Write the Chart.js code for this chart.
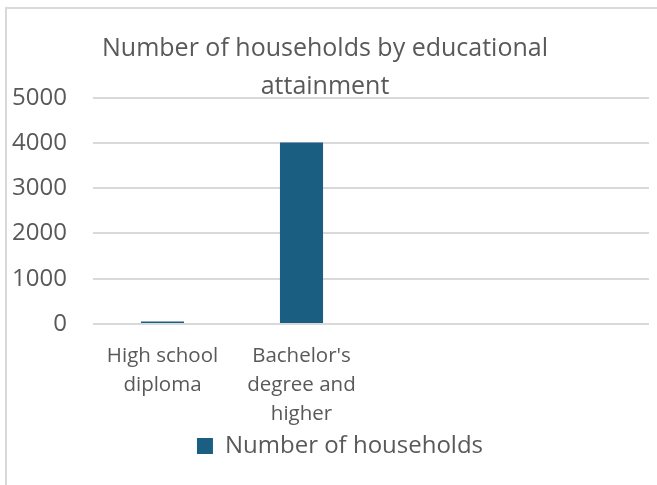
<!DOCTYPE html>
<html>
<head>
<meta charset="utf-8">
<script src="https://cdn.jsdelivr.net/npm/chart.js@4/dist/chart.umd.min.js"></script>
<style>
  html, body { margin: 0; padding: 0; background: #fff; overflow: hidden; }
  #frame {
    position: absolute; left: 5px; top: 7px;
    width: 660px; height: 480px;
    border: 2px solid #d9d9d9;
    overflow: hidden;
  }
  #wrap { position: absolute; left: -6px; top: 0; width: 666px; height: 476px; }
</style>
</head>
<body>
<div id="frame"><div id="wrap"><canvas id="eduChart"></canvas></div></div>
<script>
    // categories (two empty slots keep the same spacing as the sheet)
    var categories = [
        ['High school', 'diploma'],
        ["Bachelor's", 'degree and', 'higher'],
        '',
        ''
    ];
    var households = [55, 4010, null, null];
    var seriesName = 'Number of households';
    var titleLines = ['Number of households by educational', 'attainment'];
    var yTicks = [0, 1000, 2000, 3000, 4000, 5000];

    var textColor = '#595959';
    var barColor = '#1a5e82';
    var gridColor = '#d9d9d9';

    // nudge the legend a bit to the right of the centre line
    var legendShift = {
        id: 'legendShift',
        afterLayout: function(chart) {
            if (chart.legend) {
                chart.legend.left += 15;
                chart.legend.right += 15;
            }
        }
    };

    var ctx = document.getElementById('eduChart').getContext('2d');
    var eduChart = new Chart(ctx, {
        type: 'bar',
        data: {
            labels: categories,
            datasets: [{
                label: seriesName,
                data: households,
                backgroundColor: barColor,
                borderWidth: 0,
                categoryPercentage: 1,
                barPercentage: 0.31
            }]
        },
        plugins: [legendShift],
        options: {
            responsive: true,
            maintainAspectRatio: false,
            animation: false,
            layout: {
                padding: { left: 0, right: 18, top: 0, bottom: 17 }
            },
            scales: {
                y: {
                    min: yTicks[0],
                    max: yTicks[yTicks.length - 1],
                    afterBuildTicks: function(scale) {
                        scale.ticks = yTicks.map(function(v) { return { value: v }; });
                    },
                    afterFit: function(scale) {
                        scale.width = 92;
                    },
                    border: { display: false },
                    grid: {
                        color: gridColor,
                        lineWidth: 2,
                        drawTicks: false
                    },
                    ticks: {
                        color: textColor,
                        padding: 26,
                        font: { family: 'Open Sans', size: 24 },
                        callback: function(value) { return String(value); }
                    }
                },
                x: {
                    afterFit: function(scale) {
                        scale.height = 104;
                    },
                    border: { display: false },
                    grid: { display: false, drawTicks: false },
                    ticks: {
                        color: textColor,
                        padding: 18,
                        maxRotation: 0,
                        autoSkip: false,
                        font: { family: 'Open Sans', size: 20.5, lineHeight: 1.4 }
                    }
                }
            },
            plugins: {
                title: {
                    display: true,
                    text: titleLines,
                    color: textColor,
                    padding: { top: 21, bottom: -8.3 },
                    font: { family: 'Open Sans', size: 25, weight: 'normal', lineHeight: 1.52 }
                },
                legend: {
                    position: 'bottom',
                    labels: {
                        color: textColor,
                        boxWidth: 16,
                        boxHeight: 16,
                        padding: 6,
                        font: { family: 'Open Sans', size: 24 }
                    }
                },
                tooltip: { enabled: false }
            }
        }
    });
</script>
</body>
</html>
